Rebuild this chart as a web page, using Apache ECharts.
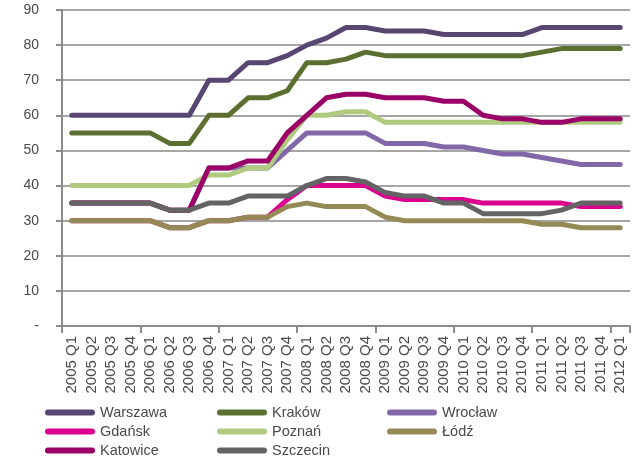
<!DOCTYPE html>
<html>
<head>
<meta charset="utf-8">
<script src="https://cdn.jsdelivr.net/npm/echarts@6/dist/echarts.min.js"></script>
<style>html,body{margin:0;padding:0;background:#fff}#c{width:640px;height:463px}</style>
</head>
<body>
<div id="c"></div>
<script>
const categories = ["2005 Q1","2005 Q2","2005 Q3","2005 Q4","2006 Q1","2006 Q2","2006 Q3","2006 Q4",
  "2007 Q1","2007 Q2","2007 Q3","2007 Q4","2008 Q1","2008 Q2","2008 Q3","2008 Q4",
  "2009 Q1","2009 Q2","2009 Q3","2009 Q4","2010 Q1","2010 Q2","2010 Q3","2010 Q4",
  "2011 Q1","2011 Q2","2011 Q3","2011 Q4","2012 Q1"];
const warszawa = [60,60,60,60,60,60,60,70,70,75,75,77,80,82,85,85,84,84,84,83,83,83,83,83,85,85,85,85,85];
const krakow   = [55,55,55,55,55,52,52,60,60,65,65,67,75,75,76,78,77,77,77,77,77,77,77,77,78,79,79,79,79];
const wroclaw  = [35,35,35,35,35,33,33,45,45,45,45,50,55,55,55,55,52,52,52,51,51,50,49,49,48,47,46,46,46];
const gdansk   = [30,30,30,30,30,28,28,30,30,31,31,36,40,40,40,40,37,36,36,36,36,35,35,35,35,35,34,34,34];
const poznan   = [40,40,40,40,40,40,40,43,43,45,45,53,60,60,61,61,58,58,58,58,58,58,58,58,58,58,58,58,58];
const lodz     = [30,30,30,30,30,28,28,30,30,31,31,34,35,34,34,34,31,30,30,30,30,30,30,30,29,29,28,28,28];
const katowice = [35,35,35,35,35,33,33,45,45,47,47,55,60,65,66,66,65,65,65,64,64,60,59,59,58,58,59,59,59];
const szczecin = [35,35,35,35,35,33,33,35,35,37,37,37,40,42,42,41,38,37,37,35,35,32,32,32,32,33,35,35,35];
const seriesNames = ["Warszawa","Kraków","Wrocław","Gdańsk","Poznań","Łódź","Katowice","Szczecin"];
const seriesData = [warszawa,krakow,wroclaw,gdansk,poznan,lodz,katowice,szczecin];
const colors = ["#574672","#5b7030","#8268a8","#dc008e","#b0ca80","#948a55","#9b0068","#646464"];

const FONT = "'Liberation Sans', Arial, sans-serif";
const TXT = "#4a4a4a";
const capsule = 'path://M3,0L47,0A3,3,0,0,1,47,6L3,6A3,3,0,0,1,3,0Z';
const colX = [45, 217, 387];
const rowY = [405, 424, 443];

const chart = echarts.init(document.getElementById('c'), null, {renderer:'canvas'});
chart.setOption({
  animation: false,
  backgroundColor: '#ffffff',
  color: colors,
  grid: {left: 62, right: 10, top: 10, bottom: 137, containLabel: false},
  xAxis: {
    type: 'category',
    data: categories,
    boundaryGap: true,
    axisLine: {lineStyle: {color: '#8c8c8c', width: 2}},
    axisTick: {show: true, interval: 3, length: 7, lineStyle: {color: '#8c8c8c', width: 2}},
    axisLabel: {interval: 0, rotate: 90, margin: 10, fontSize: 15, color: TXT, fontFamily: FONT},
    splitLine: {show: false}
  },
  yAxis: {
    type: 'value',
    min: 0, max: 90, interval: 10,
    axisLine: {show: true, lineStyle: {color: '#8c8c8c', width: 2}},
    axisTick: {show: true, length: 6, lineStyle: {color: '#8c8c8c', width: 2}},
    axisLabel: {fontSize: 14, color: TXT, fontFamily: FONT, margin: 23,
      formatter: v => v === 0 ? '-' : String(v)},
    splitLine: {lineStyle: {color: '#a6a6a6', width: 2}}
  },
  legend: seriesNames.map((n, i) => ({
    data: [n],
    left: colX[i % 3],
    top: rowY[Math.floor(i / 3)],
    padding: 0,
    itemWidth: 50,
    itemHeight: 6,
    icon: capsule,
    selectedMode: false,
    textStyle: {fontSize: 14.5, color: TXT, fontFamily: FONT}
  })),
  series: seriesNames.map((n, i) => ({
    name: n,
    type: 'line',
    data: seriesData[i],
    symbol: 'none',
    showSymbol: false,
    color: colors[i],
    itemStyle: {color: colors[i]},
    lineStyle: {width: 5, color: colors[i], cap: 'round', join: 'round'},
    emphasis: {disabled: true}
  }))
});
</script>
</body>
</html>
